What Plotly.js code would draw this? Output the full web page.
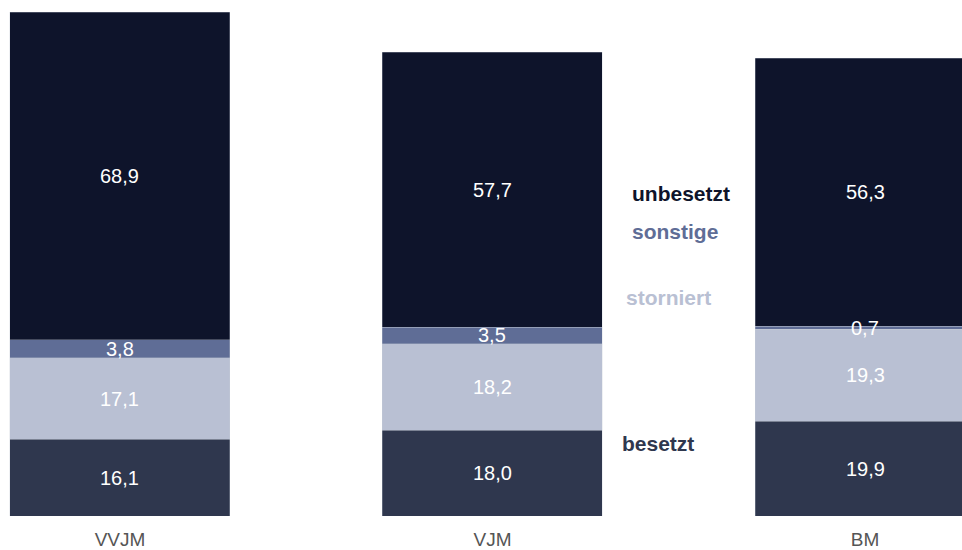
<!DOCTYPE html>
<html><head><meta charset="utf-8">
<script src="https://cdn.plot.ly/plotly-3.0.1.min.js"></script>
<style>html,body{margin:0;padding:0;background:#fff}</style>
</head><body>
<div id="chart" style="width:962px;height:550px"></div>
<script>
const categories = ["VVJM", "VJM", "BM"];
const besetzt = [16.1, 18.0, 19.9];
const storniert = [17.1, 18.2, 19.3];
const sonstige = [3.8, 3.5, 0.7];
const unbesetzt = [68.9, 57.7, 56.3];
const seriesNames = ["besetzt", "storniert", "sonstige", "unbesetzt"];
const seriesColors = ["#2f374e", "#b9c0d3", "#5f6d96", "#0e142b"];

const xpos = categories.map((c, i) => i);
const seriesData = [besetzt, storniert, sonstige, unbesetzt];
const barW = 0.5906;
const FONT = "Liberation Sans, Arial, sans-serif";

const traces = seriesData.map((vals, k) => ({
  type: "bar",
  x: xpos,
  y: vals,
  name: seriesNames[k],
  width: barW,
  marker: {color: seriesColors[k], line: {color: "rgba(200,205,215,0.6)", width: 0.5}},
  hoverinfo: "skip",
  showlegend: false
}));

const annotations = [];
xpos.forEach((x, i) => {
  let base = 0;
  seriesData.forEach((vals, k) => {
    const v = vals[i];
    annotations.push({
      x: x, y: base + v / 2, xref: "x", yref: "y",
      text: v.toFixed(1).replace(".", ","),
      showarrow: false,
      font: {family: FONT, size: 20, color: "#ffffff"}
    });
    base += v;
  });
});

// series labels placed between the VJM and BM bars
const labelXs = [1.3427, 1.3534, 1.3695, 1.3695];
const labelYs = [15.3, 46.0, 59.7, 67.7];
seriesNames.forEach((n, k) => {
  annotations.push({
    x: labelXs[k], y: labelYs[k],
    xref: "x", yref: "y", xanchor: "left",
    text: "<b>" + n + "</b>", showarrow: false,
    font: {family: FONT, size: 21, color: seriesColors[k]}
  });
});

const total = Math.max(...xpos.map(i => seriesData.reduce((s, a) => s + a[i], 0)));

const layout = {
  barmode: "stack",
  width: 962, height: 550,
  margin: {l: 0, r: 0, t: 12, b: 34},
  paper_bgcolor: "#ffffff", plot_bgcolor: "#ffffff",
  xaxis: {
    range: [-0.3221, 2.2604],
    tickvals: xpos, ticktext: categories,
    ticks: "outside", ticklen: 6, tickcolor: "rgba(0,0,0,0)",
    showgrid: false, zeroline: false, showline: false,
    tickfont: {family: FONT, size: 19, color: "#555555"}
  },
  yaxis: {range: [0, total], visible: false, showgrid: false, zeroline: false},
  annotations: annotations,
  showlegend: false
};

Plotly.newPlot("chart", traces, layout, {displayModeBar: false, staticPlot: true});
</script>
</body></html>
